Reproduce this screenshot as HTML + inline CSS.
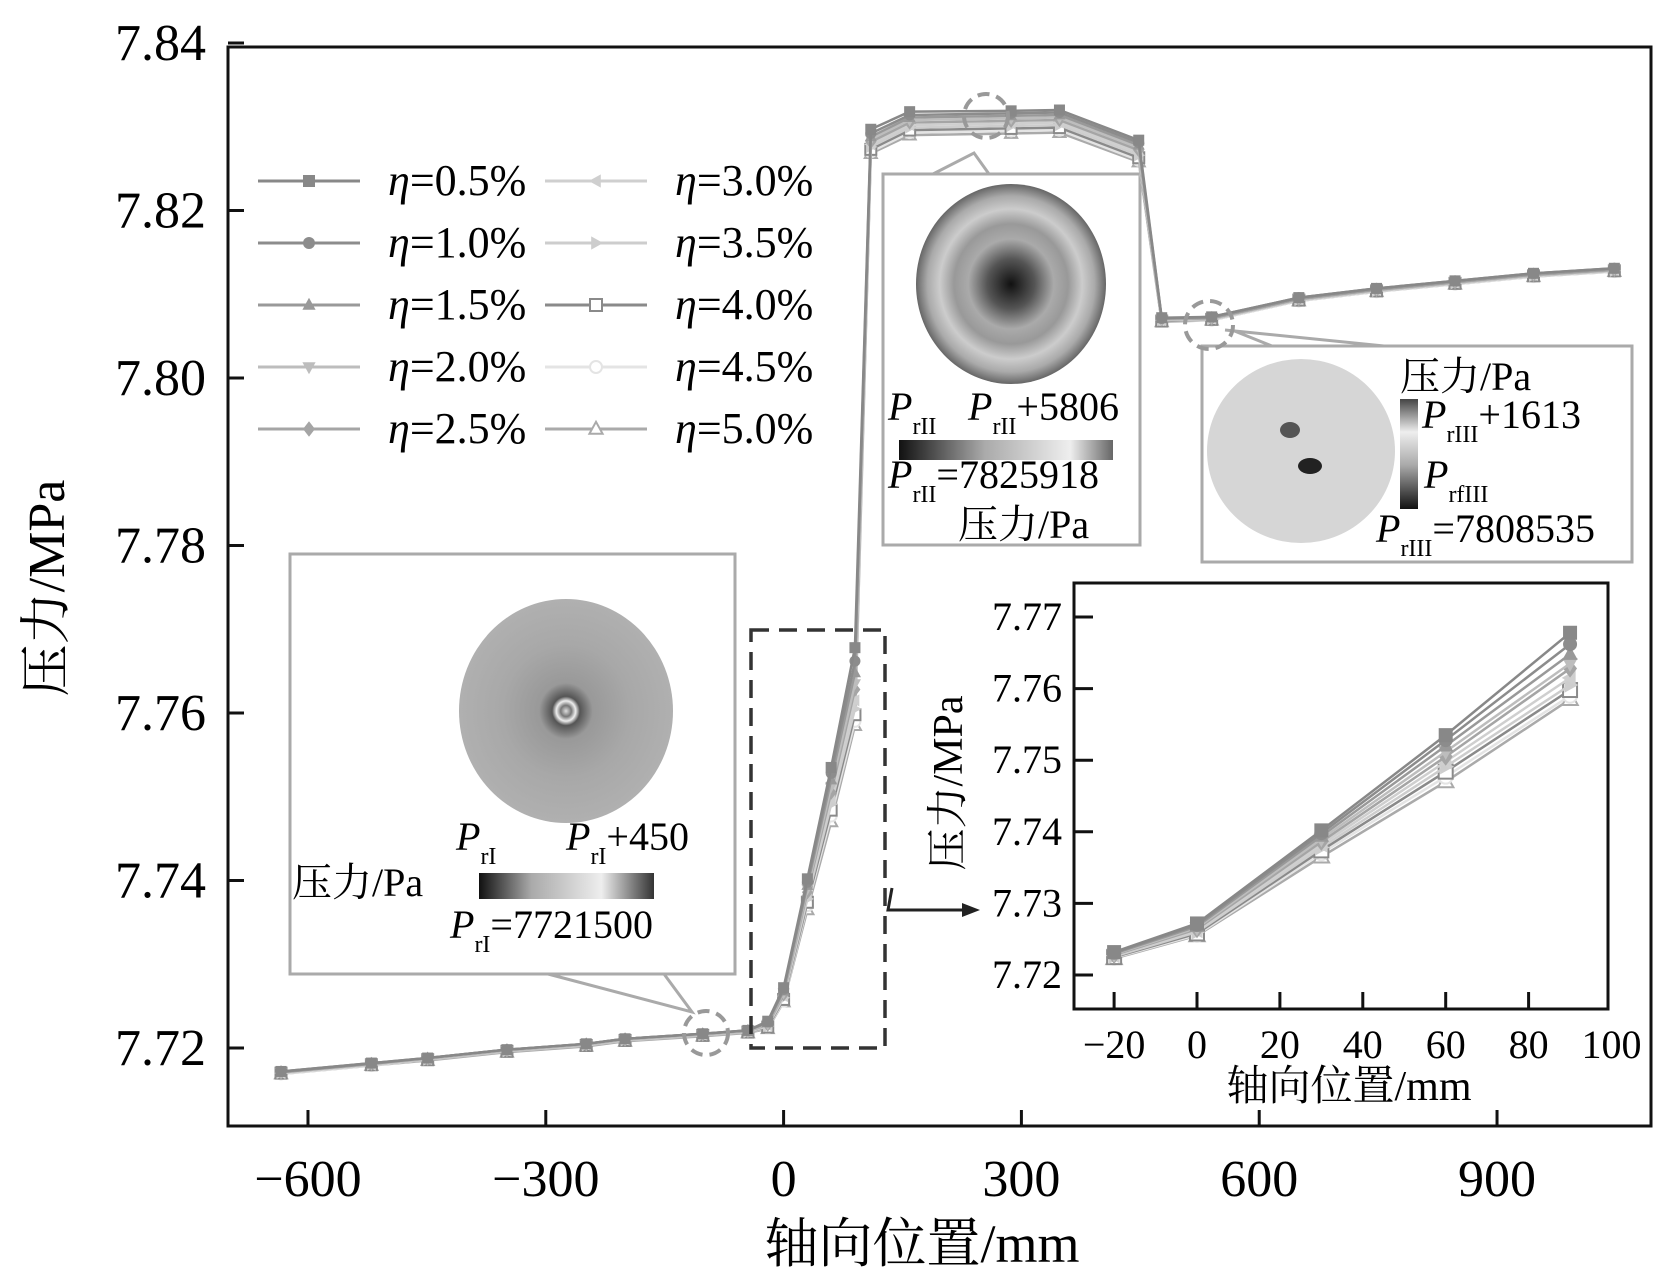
<!DOCTYPE html>
<html><head><meta charset="utf-8"><style>
html,body{margin:0;padding:0;background:#fff;}
svg{display:block;}
text,tspan{font-family:"Liberation Serif","Noto Serif CJK SC",serif;}
</style></head><body>
<svg id="c" width="1673" height="1288" viewBox="0 0 1673 1288" xmlns="http://www.w3.org/2000/svg">
<defs>
<radialGradient id="g2" cx="50%" cy="50%" r="50%">
<stop offset="0" stop-color="#111"/><stop offset="0.25" stop-color="#555"/><stop offset="0.45" stop-color="#aaa"/><stop offset="0.6" stop-color="#999"/><stop offset="0.75" stop-color="#ccc"/><stop offset="0.88" stop-color="#aaa"/><stop offset="1" stop-color="#666"/>
</radialGradient>
<radialGradient id="g1" cx="50%" cy="50%" r="50%">
<stop offset="0" stop-color="#ddd"/><stop offset="0.05" stop-color="#777"/><stop offset="0.09" stop-color="#eee"/><stop offset="0.13" stop-color="#555"/><stop offset="0.25" stop-color="#999"/><stop offset="0.6" stop-color="#a8a8a8"/><stop offset="1" stop-color="#b0b0b0"/>
</radialGradient>
<linearGradient id="cb1" x1="0" x2="1"><stop offset="0" stop-color="#111"/><stop offset="0.3" stop-color="#aaa"/><stop offset="0.7" stop-color="#eee"/><stop offset="1" stop-color="#333"/></linearGradient>
<linearGradient id="cb2" x1="0" x2="1"><stop offset="0" stop-color="#111"/><stop offset="0.4" stop-color="#aaa"/><stop offset="0.8" stop-color="#eee"/><stop offset="1" stop-color="#666"/></linearGradient>
<linearGradient id="cb3" x1="0" x2="0" y1="0" y2="1"><stop offset="0" stop-color="#444"/><stop offset="0.3" stop-color="#eee"/><stop offset="0.6" stop-color="#aaa"/><stop offset="1" stop-color="#111"/></linearGradient>
<clipPath id="mainclip"><rect x="228" y="47" width="1423" height="1079"/></clipPath>
<clipPath id="insclip"><rect x="1074" y="583" width="534" height="426"/></clipPath>
</defs>
<g id="panels"></g>
<g id="main"></g>
<g id="inset"></g>
<g id="legend"></g>
</svg>
<script>
const NS="http://www.w3.org/2000/svg";
const xVals=[-634,-520,-449,-349,-249,-200,-102,-45,-20,0,30,60,90,110,159,287,348,448,477,540,650,748,847,946,1048];
const s05=[7.7172,7.7182,7.7188,7.7198,7.7205,7.7211,7.7217,7.7221,7.7232,7.7272,7.7402,7.7535,7.7678,7.8297,7.8318,7.8319,7.8320,7.8284,7.8072,7.8073,7.8096,7.8107,7.8116,7.8125,7.8131];
const s10=[7.7172,7.7182,7.7188,7.7198,7.7205,7.7211,7.7217,7.7221,7.7231,7.7270,7.7398,7.7528,7.7662,7.8292,7.8314,7.8316,7.8317,7.8281,7.8071,7.8073,7.8096,7.8107,7.8116,7.8125,7.8131];
const s15=[7.7171,7.7181,7.7188,7.7198,7.7205,7.7211,7.7217,7.7221,7.7230,7.7268,7.7394,7.7520,7.7648,7.8288,7.8311,7.8313,7.8314,7.8278,7.8071,7.8072,7.8095,7.8106,7.8115,7.8124,7.8130];
const s20=[7.7171,7.7181,7.7187,7.7197,7.7204,7.7210,7.7216,7.7220,7.7229,7.7266,7.7390,7.7512,7.7635,7.8285,7.8308,7.8310,7.8311,7.8275,7.8070,7.8072,7.8095,7.8106,7.8115,7.8124,7.8130];
const s25=[7.7171,7.7181,7.7187,7.7197,7.7204,7.7210,7.7216,7.7220,7.7228,7.7264,7.7386,7.7505,7.7628,7.8282,7.8305,7.8307,7.8308,7.8272,7.8070,7.8071,7.8094,7.8105,7.8114,7.8123,7.8129];
const s30=[7.7170,7.7180,7.7187,7.7197,7.7204,7.7210,7.7216,7.7220,7.7227,7.7262,7.7382,7.7498,7.7615,7.8279,7.8302,7.8304,7.8305,7.8269,7.8069,7.8071,7.8094,7.8105,7.8114,7.8123,7.8129];
const s35=[7.7170,7.7180,7.7186,7.7196,7.7203,7.7209,7.7215,7.7219,7.7226,7.7260,7.7378,7.7491,7.7605,7.8276,7.8299,7.8301,7.8302,7.8266,7.8069,7.8070,7.8093,7.8104,7.8113,7.8122,7.8128];
const s40=[7.7170,7.7180,7.7186,7.7196,7.7203,7.7209,7.7215,7.7219,7.7225,7.7258,7.7374,7.7484,7.7598,7.8273,7.8296,7.8298,7.8299,7.8263,7.8068,7.8070,7.8093,7.8104,7.8113,7.8122,7.8128];
const s45=[7.7169,7.7179,7.7186,7.7196,7.7203,7.7209,7.7215,7.7219,7.7224,7.7256,7.7370,7.7477,7.7590,7.8270,7.8293,7.8295,7.8296,7.8260,7.8068,7.8069,7.8092,7.8103,7.8112,7.8121,7.8127];
const s50=[7.7169,7.7179,7.7185,7.7195,7.7202,7.7208,7.7214,7.7218,7.7223,7.7255,7.7365,7.7470,7.7585,7.8268,7.8290,7.8292,7.8293,7.8258,7.8067,7.8069,7.8092,7.8103,7.8112,7.8121,7.8127];
const seriesNames=["η=0.5%","η=1.0%","η=1.5%","η=2.0%","η=2.5%","η=3.0%","η=3.5%","η=4.0%","η=4.5%","η=5.0%"];
const mainXTicks=[-600,-300,0,300,600,900];
const mainYTicks=[7.72,7.74,7.76,7.78,7.80,7.82,7.84];
const insetXTicks=[-20,0,20,40,60,80,100];
const insetYTicks=[7.72,7.73,7.74,7.75,7.76,7.77];
const insetIdx=[8,9,10,11,12];

const allSeries=[s05,s10,s15,s20,s25,s30,s35,s40,s45,s50];
const colors=["#888","#8c8c8c","#999","#bdbdbd","#a5a5a5","#cfcfcf","#cdcdcd","#8a8a8a","#e4e4e4","#aaa"];
const markers=["sq","ci","tu","td","di","tl","tr","osq","oci","otu"];

const mx=v=>783.6+v*0.7927;
const my=v=>1048-(v-7.72)/0.02*167.5;
const ix=v=>1197+v*4.145;
const iy=v=>975-(v-7.72)*7160;

function el(tag,attrs,parent,text){const e=document.createElementNS(NS,tag);for(const k in attrs)e.setAttribute(k,attrs[k]);if(text!==undefined)e.textContent=text;parent.appendChild(e);return e;}

function marker(g,type,x,y,s,c){
  let e;
  if(type==="sq"||type==="osq"){e=el("rect",{x:x-s,y:y-s,width:2*s,height:2*s},g);}
  else if(type==="ci"||type==="oci"){e=el("circle",{cx:x,cy:y,r:s},g);}
  else {let p;
    if(type==="tu"||type==="otu")p=[[x,y-s*1.2],[x-s*1.1,y+s*0.8],[x+s*1.1,y+s*0.8]];
    else if(type==="td")p=[[x,y+s*1.2],[x-s*1.1,y-s*0.8],[x+s*1.1,y-s*0.8]];
    else if(type==="di")p=[[x,y-s*1.3],[x+s,y],[x,y+s*1.3],[x-s,y]];
    else if(type==="tl")p=[[x-s*1.2,y],[x+s*0.8,y-s*1.1],[x+s*0.8,y+s*1.1]];
    else p=[[x+s*1.2,y],[x-s*0.8,y-s*1.1],[x-s*0.8,y+s*1.1]];
    e=el("polygon",{points:p.map(q=>q.join(",")).join(" ")},g);}
  if(type[0]==="o"){e.setAttribute("fill","#fff");e.setAttribute("stroke",c);e.setAttribute("stroke-width","2");}
  else e.setAttribute("fill",c);
  
  
}

const panels=document.getElementById("panels");
const main=document.getElementById("main");
const inset=document.getElementById("inset");
const legend=document.getElementById("legend");

function panelBox(x,y,w,h,name){const r=el("rect",{x:x,y:y,width:w,height:h,fill:"#fff",stroke:"#aaa","stroke-width":3},panels);}
function sub(parent,x,y,base,subt,rest,size,anchor){const t=el("text",{x:x,y:y,"font-size":size,"text-anchor":anchor||"start"},parent);
  el("tspan",{"font-style":"italic"},t,base);el("tspan",{dy:size*0.35,"font-size":size*0.6},t,subt);if(rest)el("tspan",{dy:-size*0.35},t,rest);return t;}

el("polyline",{points:"883,174 933,174 974,153 989,174",fill:"none",stroke:"#aaa","stroke-width":3},panels);
el("polyline",{points:"548,974 692,1012 664,974",fill:"none",stroke:"#aaa","stroke-width":3},panels);
el("polyline",{points:"1232,330 1272,346",fill:"none",stroke:"#aaa","stroke-width":3},panels);
el("polyline",{points:"1225,330 1384,346",fill:"none",stroke:"#aaa","stroke-width":3},panels);

panelBox(290,554,445,420,"contour-panel-I");
let pc=el("ellipse",{cx:566,cy:711,rx:107,ry:112,fill:"url(#g1)"},panels);
el("rect",{x:479,y:873,width:175,height:26,fill:"url(#cb1)"},panels);
el("text",{x:292,y:896,"font-size":40},panels,"压力/Pa");
sub(panels,456,850,"P","rI","",40);
sub(panels,566,850,"P","rI","+450",40);
sub(panels,450,938,"P","rI","=7721500",40);

panelBox(883,174,257,371,"contour-panel-II");
pc=el("ellipse",{cx:1011,cy:284,rx:95,ry:100,fill:"url(#g2)"},panels);
el("rect",{x:899,y:440,width:214,height:20,fill:"url(#cb2)"},panels);
sub(panels,888,420,"P","rII","",40);
sub(panels,968,420,"P","rII","+5806",40);
sub(panels,888,488,"P","rII","=7825918",40);
el("text",{x:958,y:538,"font-size":40},panels,"压力/Pa");

panelBox(1202,346,430,216,"contour-panel-III");
pc=el("ellipse",{cx:1301,cy:451,rx:94,ry:92,fill:"#d6d6d6"},panels);
el("ellipse",{cx:1290,cy:430,rx:10,ry:8,fill:"#555"},panels);
el("ellipse",{cx:1310,cy:466,rx:12,ry:8,fill:"#222"},panels);
el("rect",{x:1400,y:399,width:18,height:110,fill:"url(#cb3)"},panels);
el("text",{x:1400,y:390,"font-size":40},panels,"压力/Pa");
sub(panels,1422,428,"P","rIII","+1613",40);
sub(panels,1424,488,"P","rfIII","",40);
sub(panels,1376,542,"P","rIII","=7808535",40);

const frame=el("rect",{x:228,y:47,width:1423,height:1079,fill:"none",stroke:"#111","stroke-width":3},main);

mainXTicks.forEach(v=>{el("line",{x1:mx(v),x2:mx(v),y1:1126,y2:1110,stroke:"#111","stroke-width":3},main);
  const t=el("text",{x:mx(v),y:1196,"font-size":52,"text-anchor":"middle"},main,(v<0?"\u2212"+(-v):v));
  });
mainYTicks.forEach(v=>{el("line",{x1:228,x2:244,y1:my(v),y2:my(v),stroke:"#111","stroke-width":3},main);
  const t=el("text",{x:206,y:my(v)+17,"font-size":52,"text-anchor":"end"},main,v.toFixed(2));
  });
let tt=el("text",{x:922,y:1262,"font-size":54,"text-anchor":"middle"},main,"轴向位置/mm");

tt=el("text",{x:0,y:0,"font-size":52,"text-anchor":"middle",transform:"translate(64,588) rotate(-90)"},main,"压力/MPa");


const mg=el("g",{"clip-path":"url(#mainclip)"},main);
for(let i=allSeries.length-1;i>=0;i--){
  const d=allSeries[i];
  const pl=el("polyline",{points:xVals.map((x,j)=>mx(x)+","+my(d[j])).join(" "),fill:"none",stroke:colors[i],"stroke-width":2.5},mg);
  
  
  xVals.forEach((x,j)=>marker(mg,markers[i],mx(x),my(d[j]),5.5,colors[i]));
}
el("circle",{cx:706,cy:1033,r:22,fill:"none",stroke:"#999","stroke-width":4,"stroke-dasharray":"12 7"},main);
el("circle",{cx:986,cy:116,r:22,fill:"none",stroke:"#999","stroke-width":4,"stroke-dasharray":"12 7"},main);
el("circle",{cx:1209,cy:325,r:24,fill:"none",stroke:"#999","stroke-width":4,"stroke-dasharray":"12 7"},main);
const zb=el("rect",{x:751,y:630,width:134,height:418,fill:"none",stroke:"#333","stroke-width":3.5,"stroke-dasharray":"18 10"},main);

el("polyline",{points:"892,888 888,910 975,910",fill:"none",stroke:"#222","stroke-width":3},main);
el("polygon",{points:"980,910 962,903 962,917",fill:"#222"},main);

const ib=el("rect",{x:1074,y:583,width:534,height:426,fill:"#fff",stroke:"#111","stroke-width":3},inset);

insetXTicks.forEach(v=>{if(v<100)el("line",{x1:ix(v),x2:ix(v),y1:1009,y2:992,stroke:"#111","stroke-width":3},inset);
  const t=el("text",{x:ix(v),y:1058,"font-size":40,"text-anchor":"middle"},inset,(v<0?"\u2212"+(-v):v));
  });
insetYTicks.forEach(v=>{el("line",{x1:1074,x2:1093,y1:iy(v),y2:iy(v),stroke:"#111","stroke-width":3},inset);
  const t=el("text",{x:1062,y:iy(v)+13,"font-size":40,"text-anchor":"end"},inset,v.toFixed(2));
  });
tt=el("text",{x:1349,y:1100,"font-size":42,"text-anchor":"middle"},inset,"轴向位置/mm");

tt=el("text",{x:0,y:0,"font-size":42,"text-anchor":"middle",transform:"translate(962,783) rotate(-90)"},inset,"压力/MPa");

const ig=el("g",{"clip-path":"url(#insclip)"},inset);
for(let i=allSeries.length-1;i>=0;i--){
  const d=allSeries[i];
  const pl=el("polyline",{points:insetIdx.map(j=>ix(xVals[j])+","+iy(d[j])).join(" "),fill:"none",stroke:colors[i],"stroke-width":2.5},ig);
  
  
  insetIdx.forEach(j=>marker(ig,markers[i],ix(xVals[j]),iy(d[j]),7,colors[i]));
}

seriesNames.forEach((n,i)=>{
  const col=Math.floor(i/5),row=i%5;
  const x0=col?545:258,y0=181+row*62;
  const g=el("g",{},legend);
  
  
  el("line",{x1:x0,x2:x0+102,y1:y0,y2:y0,stroke:colors[i],"stroke-width":3},g);
  marker(g,markers[i],x0+51,y0,6,colors[i]);
  const t=el("text",{x:col?675:388,y:y0+14,"font-size":44},g);
  el("tspan",{"font-style":"italic"},t,"η");
  el("tspan",{},t,n.slice(1));
});
</script>
</body></html>
